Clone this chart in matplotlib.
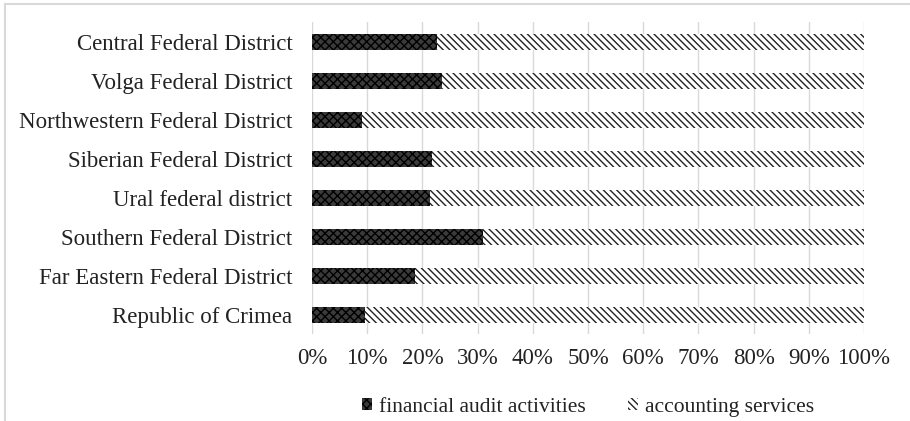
import numpy as np
import matplotlib.pyplot as plt
from matplotlib.lines import Line2D

plt.rcParams['font.family'] = ['Liberation Serif', 'DejaVu Serif']
plt.rcParams['hatch.linewidth'] = 1.0

districts = ["Central Federal District", "Volga Federal District",
             "Northwestern Federal District", "Siberian Federal District",
             "Ural federal district", "Southern Federal District",
             "Far Eastern Federal District", "Republic of Crimea"]
audit = np.array([22.6, 23.5, 9.0, 21.8, 21.4, 31.0, 18.7, 9.6])
accounting = 100 - audit

fig = plt.figure(figsize=(9.1, 4.21), dpi=100)
ax = fig.add_axes([0.3429, 0.2055, 0.6066, 0.7411])

y = np.arange(len(districts))[::-1]
ax.barh(y, audit, height=0.4, color='#3a3a3a', edgecolor='black',
        hatch='xxxx', linewidth=0, label='financial audit activities')
ax.barh(y, accounting, left=audit, height=0.4, color='white',
        edgecolor='#222222', hatch='\\\\\\\\\\', linewidth=0,
        label='accounting services')

ax.set_xlim(0, 100)
ax.set_ylim(-0.5, len(districts) - 0.5)
ax.set_xticks(np.arange(0, 101, 10))
ax.set_xticklabels([f"{v}%" for v in range(0, 101, 10)])
ax.set_yticks(y)
ax.set_yticklabels(districts)
ax.tick_params(length=0, labelsize=16.5, colors='#222222', pad=14)
ax.tick_params(axis='x', pad=10)
ax.grid(axis='x', color='#d9d9d9', linewidth=1)
ax.set_axisbelow(True)
for s in ax.spines.values():
    s.set_visible(False)

leg = ax.legend(loc='upper center', bbox_to_anchor=(0.5, -0.155), ncol=2,
                frameon=False, fontsize=15.5, handlelength=0.45,
                handleheight=0.45, handletextpad=0.3, columnspacing=2.0,
                borderpad=0.2)
for t in leg.get_texts():
    t.set_color('#222222')

# outer frame (left and top edges visible)
fig.add_artist(Line2D([0.0055, 0.0055], [0, 0.99], color='#d9d9d9', lw=1.5))
fig.add_artist(Line2D([0.0055, 1], [0.99, 0.99], color='#d9d9d9', lw=1.5))

fig.savefig('out.png', dpi=100)
